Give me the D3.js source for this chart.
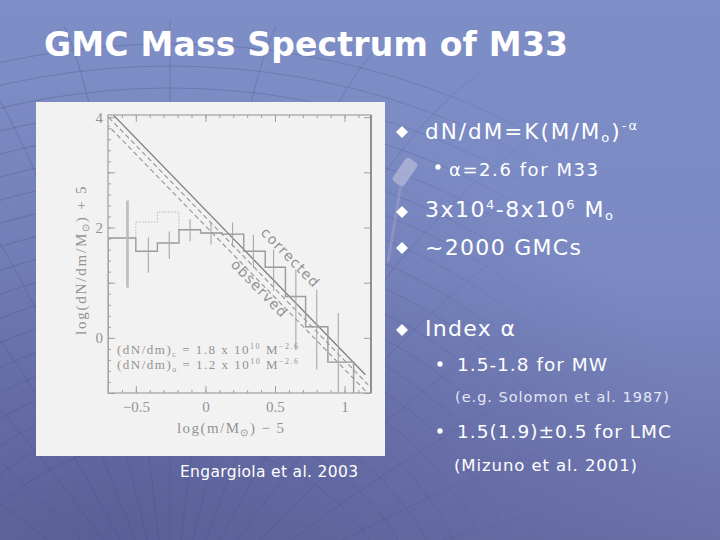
<!DOCTYPE html>
<html><head><meta charset="utf-8">
<script src="https://cdn.jsdelivr.net/npm/d3@7"></script>
<style>html,body{margin:0;padding:0;background:#7b8ac2;}svg{display:block}</style>
</head><body>
<svg id="c" width="720" height="540"></svg>
<script>
// ---- data ----
const histEdges = [-0.70, -0.50, -0.345, -0.19, -0.035, 0.12, 0.275, 0.43, 0.575, 0.72, 0.88, 1.065];
const observedLog = [1.81, 1.57, 1.72, 1.96, 1.90, 1.88, 1.57, 1.28, 0.75, 0.20, -0.44];
const correctedLog = [1.81, 2.10, 2.28, 1.96, 1.90, 1.88, 1.57, 1.28, 0.75, 0.20, -0.44];
const errX  = [-0.56, -0.41, -0.26, -0.11, 0.04, 0.195, 0.345, 0.49, 0.65, 0.80, 0.955];
const errLo = [0.91, 1.18, 1.43, 1.75, 1.69, 1.65, 1.27, 0.85, -0.22, -0.58, -1.10];
const errHi = [2.49, 1.82, 1.93, 2.15, 2.09, 2.09, 1.87, 1.60, 1.24, 0.87, 0.45];
const fitSlope = -2.6;
const fitIntercepts = [2.32, 2.19, 2.03];   // corrected (solid), observed (dashed), lower dashed
const fitEnd = [1.15, 1.17, 1.17];
const xMajor = [-0.5, 0, 0.5, 1];
const xTickLabels = ["\u22120.5", "0", "0.5", "1"];
const yMajor = [-1, 0, 1, 2, 3, 4];
const yLabelled = [0, 2, 4];

const svg = d3.select("#c");
const W = 720, H = 540;

// ---- slide background ----
const defs = svg.append("defs");
const g1 = defs.append("linearGradient").attr("id","bg").attr("x1",0).attr("y1",0).attr("x2",0).attr("y2",1);
g1.append("stop").attr("offset","0%").attr("stop-color","#7d8dc5");
g1.append("stop").attr("offset","50%").attr("stop-color","#7b8ac3");
g1.append("stop").attr("offset","100%").attr("stop-color","#6a6fa8");
svg.append("rect").attr("width",W).attr("height",H).attr("fill","url(#bg)");
const g2 = defs.append("radialGradient").attr("id","dk").attr("cx","0.15").attr("cy","1").attr("r","0.85");
g2.append("stop").attr("offset","0%").attr("stop-color","#565a93").attr("stop-opacity",0.75);
g2.append("stop").attr("offset","100%").attr("stop-color","#565a93").attr("stop-opacity",0);
svg.append("rect").attr("width",W).attr("height",H).attr("fill","url(#dk)");

// globe mesh decoration (faded towards the right)
const mg = defs.append("linearGradient").attr("id","mfade").attr("x1",0).attr("y1",0).attr("x2",1).attr("y2",0);
mg.append("stop").attr("offset","0%").attr("stop-color","#fff").attr("stop-opacity",1);
mg.append("stop").attr("offset","55%").attr("stop-color","#fff").attr("stop-opacity",0.8);
mg.append("stop").attr("offset","80%").attr("stop-color","#fff").attr("stop-opacity",0);
defs.append("mask").attr("id","mmask").append("rect").attr("width",W).attr("height",H).attr("fill","url(#mfade)");
const mesh = svg.append("g").attr("mask","url(#mmask)").attr("fill","none").attr("stroke","#454a82").attr("stroke-opacity",0.3).attr("stroke-width",1);
const cx0 = 170, cy0 = 640;
d3.range(200, 600, 22).forEach(r => {
  mesh.append("ellipse").attr("cx",cx0).attr("cy",cy0).attr("rx",r*1.15).attr("ry",r);
});
d3.range(-80, 81, 8).forEach(a => {
  const t = a*Math.PI/180;
  mesh.append("path").attr("d",`M${cx0},${cy0} Q${cx0+Math.sin(t)*380},${cy0-Math.cos(t)*500} ${cx0+Math.sin(t)*760},${cy0-Math.cos(t)*620}`);
});

// faint telescope-like decoration beside the panel
const deco = svg.append("g").attr("opacity",0.55);
deco.append("line").attr("x1",388).attr("y1",262).attr("x2",402).attr("y2",178).attr("stroke","#9a9fc4").attr("stroke-width",3);
deco.append("rect").attr("x",-7).attr("y",-14).attr("width",14).attr("height",28).attr("rx",4)
  .attr("transform","translate(405,172) rotate(35)").attr("fill","#c8cbe0");

// ---- title ----
const title = svg.append("text").attr("x",44).attr("y",56)
  .attr("font-family","DejaVu Sans").attr("font-weight","bold").attr("font-size",33)
  .attr("fill","#ffffff").text("GMC Mass Spectrum of M33");
(function(){const w=title.node().getComputedTextLength();const n=title.text().length;title.attr("letter-spacing",(524-w)/(n-1));})();

// ---- figure panel ----
svg.append("rect").attr("x",36).attr("y",102).attr("width",349).attr("height",354).attr("fill","#f2f2f2");

const x = d3.scaleLinear().domain([-0.70, 1.19]).range([108, 371]);
const y = d3.scaleLinear().domain([-1.0, 4.04]).range([393, 115]);
const gray = "#939393";
const serif = "Liberation Serif";

defs.append("clipPath").attr("id","frame").append("rect")
  .attr("x",x.range()[0]).attr("y",y.range()[1]).attr("width",x.range()[1]-x.range()[0]).attr("height",y.range()[0]-y.range()[1]);
const plot = svg.append("g").attr("clip-path","url(#frame)");

// fit lines
fitIntercepts.forEach((b,i) => {
  const x0 = (4.1 - b)/fitSlope;
  const pts = [[x0, b+fitSlope*x0],[fitEnd[i], b+fitSlope*fitEnd[i]]];
  plot.append("path").attr("d", d3.line().x(d=>x(d[0])).y(d=>y(d[1]))(pts))
    .attr("fill","none").attr("stroke", i===0 ? "#808080" : "#959595")
    .attr("stroke-width", i===0 ? 1.3 : 1.1)
    .attr("stroke-dasharray", i===0 ? null : "5,3");
});

// histograms
function stepPts(vals){
  const p=[[histEdges[0], -1.2]];
  vals.forEach((v,i)=>{p.push([histEdges[i],v]);p.push([histEdges[i+1],v]);});
  p.push([histEdges[histEdges.length-1], -1.2]);
  return p;
}
const ln = d3.line().x(d=>x(d[0])).y(d=>y(d[1]));
plot.append("path").attr("d", ln(stepPts(correctedLog))).attr("fill","none")
  .attr("stroke","#b8b8b8").attr("stroke-width",1).attr("stroke-dasharray","1.5,1.5");
plot.append("path").attr("d", ln(stepPts(observedLog))).attr("fill","none")
  .attr("stroke","#9c9c9c").attr("stroke-width",1.4);

// error bars
errX.forEach((ex,i)=>{
  plot.append("line").attr("x1",x(ex)).attr("x2",x(ex)).attr("y1",y(errLo[i])).attr("y2",y(errHi[i]))
    .attr("stroke", i===0 ? "#bcbcbc" : "#a8a8a8").attr("stroke-width", i===0 ? 2.6 : 1.1);
});

// frame + axes (inward ticks)
const axStyle = g => { g.select(".domain").remove(); g.selectAll("line").attr("stroke","#a0a0a0"); g.selectAll("text").attr("fill",gray).attr("font-family",serif).attr("font-size",15); };
const xMinor = d3.range(-6, 12).map(v=>v/10);
const yMinor = d3.range(-5, 21).map(v=>v/5);
svg.append("g").attr("transform",`translate(0,${y.range()[0]})`)
  .call(d3.axisBottom(x).tickValues(xMinor).tickSize(-3).tickFormat("")).call(axStyle);
svg.append("g").attr("transform",`translate(0,${y.range()[0]})`)
  .call(d3.axisBottom(x).tickValues(xMajor).tickSize(-7).tickPadding(8).tickFormat((d,i)=>xTickLabels[i])).call(axStyle);
svg.append("g").attr("transform",`translate(0,${y.range()[1]})`)
  .call(d3.axisTop(x).tickValues(xMinor).tickSize(-3).tickFormat("")).call(axStyle);
svg.append("g").attr("transform",`translate(0,${y.range()[1]})`)
  .call(d3.axisTop(x).tickValues(xMajor).tickSize(-7).tickFormat("")).call(axStyle);
svg.append("g").attr("transform",`translate(${x.range()[0]},0)`)
  .call(d3.axisLeft(y).tickValues(yMinor).tickSize(-3).tickFormat("")).call(axStyle);
svg.append("g").attr("transform",`translate(${x.range()[0]},0)`)
  .call(d3.axisLeft(y).tickValues(yMajor).tickSize(-7).tickPadding(5).tickFormat(d=>yLabelled.includes(d)?d3.format("d")(d):"")).call(axStyle);
svg.append("g").attr("transform",`translate(${x.range()[1]},0)`)
  .call(d3.axisRight(y).tickValues(yMajor).tickSize(-7).tickFormat("")).call(axStyle);
svg.append("rect").attr("x",x.range()[0]).attr("y",y.range()[1]).attr("width",x.range()[1]-x.range()[0]).attr("height",y.range()[0]-y.range()[1])
  .attr("fill","none").attr("stroke","#a0a0a0").attr("stroke-width",1.2);
svg.append("line").attr("x1",x.range()[1]).attr("x2",x.range()[1]).attr("y1",y.range()[1]).attr("y2",y.range()[0]).attr("stroke","#8f8f8f").attr("stroke-width",2);

function fitW(t, target){ const w=t.node().getComputedTextLength(); const n=t.text().length; t.attr("letter-spacing",(target-w)/(n-1)); }

// axis labels
const xl = svg.append("text").attr("x",177).attr("y",433)
  .attr("font-family",serif).attr("font-size",15).attr("fill",gray);
xl.append("tspan").text("log(m/M");
xl.append("tspan").attr("font-size",10).attr("dy",3).text("\u2299");
xl.append("tspan").attr("dy",-3).text(")  \u2212  5");
fitW(xl, 110);
const yl = svg.append("text").attr("transform","translate(86,335) rotate(-90)")
  .attr("font-family",serif).attr("font-size",15).attr("fill",gray);
yl.append("tspan").text("log(dN/dm/M");
yl.append("tspan").attr("font-size",10).attr("dy",3).text("\u2299");
yl.append("tspan").attr("dy",-3).text(")  +  5");
fitW(yl, 152);

// in-plot annotations
const slopeDeg = Math.atan(-fitSlope*(y(0)-y(1))/(x(1)-x(0)))*180/Math.PI;
svg.append("text").attr("transform",`translate(287,261) rotate(${slopeDeg})`).attr("text-anchor","middle")
  .attr("font-family","DejaVu Sans").attr("font-size",14).attr("letter-spacing",1.2).attr("fill",gray).text("corrected");
svg.append("text").attr("transform",`translate(256,292) rotate(${slopeDeg})`).attr("text-anchor","middle")
  .attr("font-family","DejaVu Sans").attr("font-size",14).attr("letter-spacing",1.2).attr("fill",gray).text("observed");

function legendLine(yy, sub, coef){
  const t = svg.append("text").attr("x",117).attr("y",yy).attr("font-family",serif).attr("font-size",13).attr("fill",gray);
  t.append("tspan").text("(dN/dm)");
  t.append("tspan").attr("font-size",8).attr("dy",3).text(sub);
  t.append("tspan").attr("dy",-3).text(" = " + coef + " x 10");
  t.append("tspan").attr("font-size",8).attr("dy",-5).text("10");
  t.append("tspan").attr("dy",5).text(" M");
  t.append("tspan").attr("font-size",8).attr("dy",-5).text("\u22122.6");
  fitW(t, 181);
}
legendLine(354, "c", "1.8");
legendLine(369, "o", "1.2");

// caption
const cap = svg.append("text").attr("x",180).attr("y",477).attr("font-family","DejaVu Sans").attr("font-size",15.5)
  .attr("fill","#ffffff").text("Engargiola et al. 2003");
fitW(cap, 178);

// ---- bullet text ----
const sans = "DejaVu Sans";
function diamond(cx, cy){
  svg.append("path").attr("d",`M${cx},${cy-6}L${cx+6},${cy}L${cx},${cy+6}L${cx-6},${cy}Z`).attr("fill","#ffffff");
}
function dot(cx, cy){ svg.append("circle").attr("cx",cx).attr("cy",cy).attr("r",2.7).attr("fill","#ffffff"); }

diamond(402,132);
let t = svg.append("text").attr("x",425).attr("y",139).attr("font-family",sans).attr("font-size",21.5).attr("fill","#fff");
t.append("tspan").text("dN/dM=K(M/M");
t.append("tspan").attr("font-size",13).attr("dy",3).text("o");
t.append("tspan").attr("dy",-3).text(")");
t.append("tspan").attr("font-size",13).attr("dy",-9).text("-\u03b1");
fitW(t, 212);

dot(438,167);
t = svg.append("text").attr("x",449).attr("y",176).attr("font-family",sans).attr("font-size",18).attr("fill","#fff").text("\u03b1=2.6 for M33");
fitW(t, 149);

diamond(402,212);
t = svg.append("text").attr("x",425).attr("y",217).attr("font-family",sans).attr("font-size",22).attr("fill","#fff");
t.append("tspan").text("3x10");
t.append("tspan").attr("font-size",13).attr("dy",-8).text("4");
t.append("tspan").attr("dy",8).text("-8x10");
t.append("tspan").attr("font-size",13).attr("dy",-8).text("6");
t.append("tspan").attr("dy",8).text(" M");
t.append("tspan").attr("font-size",13).attr("dy",3).text("o");
fitW(t, 188);

diamond(402,248);
t = svg.append("text").attr("x",425).attr("y",255).attr("font-family",sans).attr("font-size",22).attr("fill","#fff").text("~2000 GMCs");
fitW(t, 156);

diamond(402,330);
t = svg.append("text").attr("x",425).attr("y",336).attr("font-family",sans).attr("font-size",22).attr("fill","#fff").text("Index \u03b1");
fitW(t, 90);

dot(440,364);
t = svg.append("text").attr("x",457).attr("y",371).attr("font-family",sans).attr("font-size",18.5).attr("fill","#fff").text("1.5-1.8 for MW");
fitW(t, 150);

t = svg.append("text").attr("x",455).attr("y",402).attr("font-family",sans).attr("font-size",14.5).attr("fill","#e4e7f4").text("(e.g. Solomon et al. 1987)");
fitW(t, 214);

dot(440,431);
t = svg.append("text").attr("x",457).attr("y",438).attr("font-family",sans).attr("font-size",18.5).attr("fill","#fff").text("1.5(1.9)\u00b10.5 for LMC");
fitW(t, 214);

t = svg.append("text").attr("x",454).attr("y",471).attr("font-family",sans).attr("font-size",16.5).attr("fill","#fff").text("(Mizuno et al. 2001)");
fitW(t, 183);
</script>
</body></html>
